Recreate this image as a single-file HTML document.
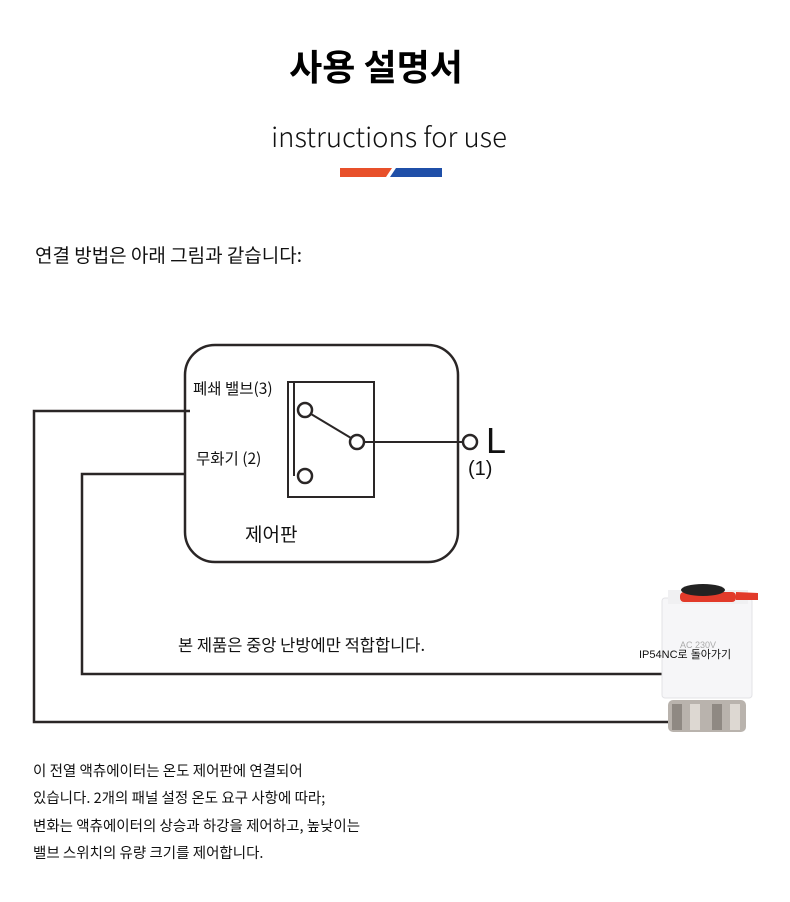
<!DOCTYPE html>
<html><head><meta charset="utf-8"><style>
html,body{margin:0;padding:0;background:#fff;}
body{width:790px;height:902px;position:relative;overflow:hidden;font-family:"Liberation Sans","Noto Sans CJK KR",sans-serif;}
svg{position:absolute;left:0;top:0;}
</style></head><body>
<svg width="790" height="902" viewBox="0 0 790 902" xmlns="http://www.w3.org/2000/svg">
<rect width="790" height="902" fill="#fff"/>
<text x="376" y="80" text-anchor="middle" font-family="Noto Sans CJK KR, sans-serif" font-weight="700" font-size="36" fill="#000">사용 설명서</text>
<text x="389" y="147" text-anchor="middle" font-family="Noto Sans CJK KR, sans-serif" font-weight="300" font-size="27.5" fill="#111">instructions for use</text>
<polygon points="340,168 392,168 386,177 340,177" fill="#e8502a"/>
<polygon points="396,168 442,168 442,177 390,177" fill="#1f4fa8"/>
<text x="35" y="262" font-family="Noto Sans CJK KR, sans-serif" font-size="19" fill="#111">연결 방법은 아래 그림과 같습니다:</text>
<g fill="none" stroke="#2a2626" stroke-width="2.5">
<rect x="185" y="345" width="273" height="217" rx="30"/>
<rect x="288" y="382" width="86" height="115" stroke-width="2"/>
<line x1="294" y1="382" x2="294" y2="476" stroke-width="2"/>
<circle cx="305" cy="410" r="7"/>
<circle cx="357" cy="442" r="7"/>
<circle cx="305" cy="476" r="7"/>
<line x1="311" y1="414" x2="351" y2="438" stroke-width="2"/>
<line x1="364" y1="442" x2="463" y2="442" stroke-width="2"/>
<circle cx="470" cy="442" r="7"/>
<polyline points="190,411 34,411 34,722 668,722"/>
<polyline points="185,474 82,474 82,674 662,674"/>
</g>
<text x="193" y="394" font-family="Noto Sans CJK KR, sans-serif" font-size="15.5" fill="#111">폐쇄 밸브(3)</text>
<text x="196" y="464" font-family="Noto Sans CJK KR, sans-serif" font-size="15.5" fill="#111">무화기 (2)</text>
<text x="486" y="453" font-family="Liberation Sans, sans-serif" font-size="36" fill="#111">L</text>
<text x="468" y="475" font-family="Liberation Sans, sans-serif" font-size="20" fill="#111">(1)</text>
<text x="245" y="541" font-family="Noto Sans CJK KR, sans-serif" font-size="19" fill="#111">제어판</text>
<text x="178" y="651" font-family="Noto Sans CJK KR, sans-serif" font-size="16.5" fill="#111">본 제품은 중앙 난방에만 적합합니다.</text>
<!-- actuator -->
<rect x="668" y="700" width="78" height="32" rx="5" fill="#b9b3ad"/>
<rect x="672" y="704" width="10" height="26" fill="#8f8983"/>
<rect x="690" y="704" width="10" height="26" fill="#ddd8d2"/>
<rect x="712" y="704" width="10" height="26" fill="#8f8983"/>
<rect x="730" y="704" width="10" height="26" fill="#ddd8d2"/>
<rect x="662" y="598" width="90" height="100" rx="3" fill="#f6f6f8" stroke="#e3e3e6"/>
<rect x="668" y="590" width="80" height="14" fill="#f0f0f2"/>
<rect x="680" y="592" width="56" height="10" rx="4" fill="#e23a2a"/>
<ellipse cx="703" cy="590" rx="22" ry="6" fill="#222"/>
<polygon points="736,592 758,593 758,600 736,600" fill="#e23a2a"/>
<text x="680" y="648" font-family="Liberation Sans, sans-serif" font-size="9" fill="#aaa">AC 230V</text>
<text x="639" y="658" font-family="Liberation Sans, Noto Sans CJK KR, sans-serif" font-size="11" fill="#111">IP54NC로 돌아가기</text>
<g font-family="Noto Sans CJK KR, sans-serif" font-size="14.5" fill="#111">
<text x="33" y="776">이 전열 액츄에이터는 온도 제어판에 연결되어</text>
<text x="33" y="803">있습니다. 2개의 패널 설정 온도 요구 사항에 따라;</text>
<text x="33" y="831">변화는 액츄에이터의 상승과 하강을 제어하고, 높낮이는</text>
<text x="33" y="858">밸브 스위치의 유량 크기를 제어합니다.</text>
</g>
</svg>
</body></html>
